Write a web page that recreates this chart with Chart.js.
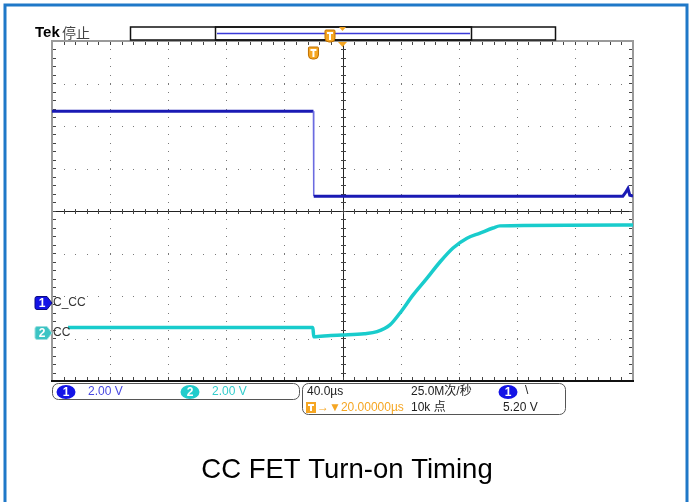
<!DOCTYPE html>
<html>
<head>
<meta charset="utf-8">
<script src="https://cdn.jsdelivr.net/npm/chart.js@4/dist/chart.umd.min.js"></script>
<style>
  body { margin: 0; background: #fff; }
  #scope { display: block; }
</style>
</head>
<body>
<canvas id="scope" width="691" height="502"></canvas>
<script>
// time in us (screen centre = 0, 40us/div), level in divisions from centre
var ch1Time = [-200, -20, -19.8, 193, 194.8, 196.5, 197.8, 200];
var ch1Div  = [2.35, 2.35, 0.35, 0.35, 0.43, 0.53, 0.37, 0.35];

var ch2Time = [-189, -20.4, -19.8, -8, 0, 15, 23.8, 32.7, 39.6, 48.5, 58.2, 67.1, 76.1, 85.7, 94.7, 103.6, 108.4, 200];
var ch2Div  = [-2.74, -2.74, -2.96, -2.93, -2.92, -2.89, -2.84, -2.68, -2.40, -1.98, -1.58, -1.20, -0.87, -0.64, -0.52, -0.40, -0.35, -0.33];

var xTicks = [-200, -160, -120, -80, -40, 0, 40, 80, 120, 160, 200];
var yTicks = [-4, -3, -2, -1, 0, 1, 2, 3, 4];

var titulo = 'CC FET Turn-on Timing';
var naranja = '#f5a623';
var azulCh1 = '#1a1ab4';
var cianCh2 = '#19cccc';

function puntos(t, v){
    var out = [];
    for (var i = 0; i < t.length; i++) {
        out.push({x: t[i], y: v[i]});
    }
    return out;
}

function marcaT(ctx, x, y){
    ctx.fillStyle = naranja;
    ctx.strokeStyle = '#c07000';
    ctx.lineWidth = 1;
    ctx.beginPath();
    ctx.roundRect(x - 5, y, 10, 12, [1, 1, 4, 4]);
    ctx.fill();
    ctx.stroke();
    ctx.fillStyle = '#fff';
    ctx.fillRect(x - 3, y + 2, 6, 2);
    ctx.fillRect(x - 1, y + 2, 2, 8);
}

function trianguloAbajo(ctx, x, y, w, h){
    ctx.fillStyle = naranja;
    ctx.beginPath();
    ctx.moveTo(x - w / 2, y);
    ctx.lineTo(x + w / 2, y);
    ctx.lineTo(x, y + h);
    ctx.closePath();
    ctx.fill();
}

function marcaCanal(ctx, x, y, color, borde, num){
    ctx.fillStyle = color;
    ctx.strokeStyle = borde;
    ctx.lineWidth = 1;
    ctx.beginPath();
    ctx.moveTo(x + 2, y - 6.5);
    ctx.lineTo(x + 12, y - 6.5);
    ctx.lineTo(x + 17, y);
    ctx.lineTo(x + 12, y + 6.5);
    ctx.lineTo(x + 2, y + 6.5);
    ctx.quadraticCurveTo(x, y + 6.5, x, y + 4.5);
    ctx.lineTo(x, y - 4.5);
    ctx.quadraticCurveTo(x, y - 6.5, x + 2, y - 6.5);
    ctx.closePath();
    ctx.fill();
    ctx.stroke();
    ctx.fillStyle = '#fff';
    ctx.font = 'bold 12px "Liberation Sans"';
    ctx.textAlign = 'center';
    ctx.textBaseline = 'middle';
    ctx.fillText(num, x + 7, y + 1);
}

function ovalo(ctx, cx, cy, color, num){
    ctx.fillStyle = color;
    ctx.beginPath();
    ctx.ellipse(cx, cy, 9.5, 7, 0, 0, Math.PI * 2);
    ctx.fill();
    ctx.fillStyle = '#fff';
    ctx.font = 'bold 12px "Liberation Sans"';
    ctx.textAlign = 'center';
    ctx.textBaseline = 'middle';
    ctx.fillText(num, cx, cy + 1);
}

function texto(ctx, s, x, y, color, font){
    ctx.fillStyle = color;
    ctx.font = font || '12px "Liberation Sans"';
    ctx.textAlign = 'left';
    ctx.textBaseline = 'middle';
    ctx.fillText(s, x, y);
}

var reticula = {
    id: 'reticula',
    beforeDatasetsDraw: function(chart){
        var ctx = chart.ctx;
        var xs = chart.scales.x, ys = chart.scales.y;
        var L = xs.getPixelForValue(-200), R = xs.getPixelForValue(200);
        var T = ys.getPixelForValue(4), B = ys.getPixelForValue(-4);
        var cx = xs.getPixelForValue(0), cy = ys.getPixelForValue(0);
        ctx.save();
        // dotted major lines
        ctx.fillStyle = '#7a7a7a';
        yTicks.forEach(function(v){
            if (v === 0 || v === 4 || v === -4) return;
            var py = Math.round(ys.getPixelForValue(v));
            for (var t = -200; t <= 200; t += 8) {
                ctx.fillRect(Math.round(xs.getPixelForValue(t)), py, 1, 1);
            }
        });
        xTicks.forEach(function(v){
            if (v === 0 || v === 200 || v === -200) return;
            var px = Math.round(xs.getPixelForValue(v));
            for (var d = -4; d <= 4.001; d += 0.2) {
                ctx.fillRect(px, Math.round(ys.getPixelForValue(d)), 1, 1);
            }
        });
        // centre cross with ticks
        ctx.strokeStyle = '#222';
        ctx.lineWidth = 1;
        ctx.beginPath();
        ctx.moveTo(L, Math.round(cy) + 0.5); ctx.lineTo(R, Math.round(cy) + 0.5);
        ctx.moveTo(Math.round(cx) + 0.5, T); ctx.lineTo(Math.round(cx) + 0.5, B);
        ctx.stroke();
        ctx.fillStyle = '#444';
        for (var t = -200; t <= 200; t += 8) {
            var px = Math.round(xs.getPixelForValue(t));
            ctx.fillRect(px, Math.round(cy) - 2, 1, 5);
            ctx.fillRect(px, Math.round(T) + 1, 1, 3);
            ctx.fillRect(px, Math.round(B) - 4, 1, 3);
        }
        for (var d = -4; d <= 4.001; d += 0.2) {
            var py = Math.round(ys.getPixelForValue(d));
            ctx.fillRect(Math.round(cx) - 2, py, 5, 1);
            ctx.fillRect(Math.round(L) + 1, py, 3, 1);
            ctx.fillRect(Math.round(R) - 4, py, 3, 1);
        }
        // border
        ctx.strokeStyle = '#9a9a9a';
        ctx.lineWidth = 2;
        ctx.beginPath();
        ctx.moveTo(L, B); ctx.lineTo(L, T); ctx.lineTo(R, T); ctx.lineTo(R, B);
        ctx.stroke();
        ctx.strokeStyle = '#111';
        ctx.beginPath();
        ctx.moveTo(L - 1, B); ctx.lineTo(R + 1, B);
        ctx.stroke();
        ctx.restore();
    },
    afterDraw: function(chart){
        var ctx = chart.ctx;
        var xs = chart.scales.x, ys = chart.scales.y;
        var T = ys.getPixelForValue(4);
        ctx.save();

        // outer blue frame
        ctx.strokeStyle = '#1f78c8';
        ctx.lineWidth = 3;
        ctx.beginPath();
        ctx.moveTo(5, 510); ctx.lineTo(5, 5); ctx.lineTo(687, 5); ctx.lineTo(687, 510);
        ctx.stroke();

        // header
        texto(ctx, 'Tek', 35, 33, '#000', 'bold 15px "Liberation Sans Narrow", "Liberation Sans"');
        texto(ctx, '停止', 62, 33, '#444', '14px "Noto Sans CJK SC"');

        // record bar
        ctx.strokeStyle = '#111';
        ctx.lineWidth = 1.5;
        ctx.fillStyle = '#fff';
        ctx.fillRect(130.5, 27, 425, 13);
        ctx.strokeRect(130.5, 27, 425, 13);
        ctx.strokeRect(215.5, 27, 256, 13);
        ctx.strokeStyle = '#3a3ad8';
        ctx.lineWidth = 1.5;
        ctx.beginPath();
        ctx.moveTo(217, 33.5); ctx.lineTo(470, 33.5);
        ctx.stroke();
        marcaT(ctx, 330, 30);
        var cx = xs.getPixelForValue(0);
        trianguloAbajo(ctx, cx, 27, 7, 4);
        trianguloAbajo(ctx, cx, T + 1, 9, 5);
        marcaT(ctx, xs.getPixelForValue(-20), 47);

        // channel markers
        marcaCanal(ctx, 35, 303, '#1414e6', '#0a0a80', '1');
        texto(ctx, 'C_CC', 53, 303, '#333');
        marcaCanal(ctx, 35, 333, '#3cc4c4', '#9adede', '2');
        texto(ctx, 'CC', 53, 333, '#333');

        // status boxes
        ctx.strokeStyle = '#555';
        ctx.lineWidth = 1;
        ctx.fillStyle = '#fff';
        ctx.beginPath();
        ctx.roundRect(52.5, 383.5, 247, 16, 6);
        ctx.fill(); ctx.stroke();
        ctx.beginPath();
        ctx.roundRect(302.5, 383.5, 263, 31, 6);
        ctx.fill(); ctx.stroke();

        ovalo(ctx, 66, 392, '#1414e6', '1');
        texto(ctx, '2.00 V', 88, 392, '#4848e0');
        ovalo(ctx, 190, 392, '#22cccc', '2');
        texto(ctx, '2.00 V', 212, 392, '#33cccc');

        texto(ctx, '40.0µs', 307, 392, '#222');
        texto(ctx, '25.0M次/秒', 411, 392, '#222', '12px "Liberation Sans", "Noto Sans CJK SC"');
        ovalo(ctx, 508, 392, '#1414e6', '1');
        texto(ctx, '\\', 525, 391, '#222');

        ctx.fillStyle = naranja;
        ctx.fillRect(306, 402, 10, 11);
        ctx.fillStyle = '#fff';
        ctx.fillRect(308, 404, 6, 2);
        ctx.fillRect(310, 404, 2, 7);
        texto(ctx, '→▼20.00000µs', 317, 408, naranja, '12px "Liberation Sans", "DejaVu Sans"');
        texto(ctx, '10k 点', 411, 408, '#222', '12px "Liberation Sans", "Noto Sans CJK SC"');
        texto(ctx, '5.20 V', 503, 408, '#222');

        // caption
        ctx.fillStyle = '#000';
        ctx.font = '27.5px "Liberation Sans"';
        ctx.textAlign = 'center';
        ctx.textBaseline = 'middle';
        ctx.fillText(titulo, 347, 470);
        ctx.restore();
    }
};

function esVertical(c){
    return Math.abs(c.p1.parsed.x - c.p0.parsed.x) < 1;
}

var ctx = document.getElementById('scope');
var grafico = new Chart(ctx, {
    type: 'line',
    data: {
        datasets: [{
            label: 'C_CC',
            data: puntos(ch1Time, ch1Div),
            borderColor: azulCh1,
            borderWidth: 3,
            pointRadius: 0,
            tension: 0,
            segment: {
                borderColor: function(c){ return esVertical(c) && c.p0.parsed.y > 1 ? '#6b6be0' : undefined; },
                borderWidth: function(c){ return esVertical(c) && c.p0.parsed.y > 1 ? 1.5 : undefined; }
            }
        }, {
            label: 'CC',
            data: puntos(ch2Time, ch2Div),
            borderColor: cianCh2,
            borderWidth: 3.5,
            pointRadius: 0,
            cubicInterpolationMode: 'monotone'
        }]
    },
    options: {
        responsive: false,
        animation: false,
        devicePixelRatio: 1,
        layout: { padding: { left: 52, right: 58, top: 41, bottom: 121 } },
        plugins: { legend: { display: false }, tooltip: { enabled: false } },
        scales: {
            x: { type: 'linear', min: -200, max: 200, display: false },
            y: { type: 'linear', min: -4, max: 4, display: false }
        }
    },
    plugins: [reticula]
});
</script>
</body>
</html>
